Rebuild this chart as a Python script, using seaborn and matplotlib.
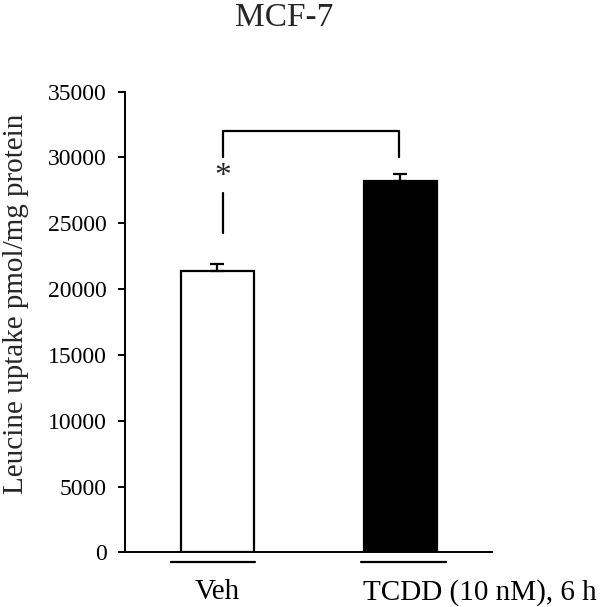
import matplotlib
matplotlib.use("Agg")
import matplotlib.pyplot as plt
import matplotlib.transforms as mtransforms
import pandas as pd
import seaborn as sns

# values
groups = ["Veh", "TCDD (10 nM), 6 h"]
uptake = [21400, 28250]
uptake_err = [480, 500]
title = "MCF-7"
ylabel = "Leucine uptake pmol/mg protein"
yticks = [0, 5000, 10000, 15000, 20000, 25000, 30000, 35000]

sns.set_style("white")
plt.rcParams["font.family"] = ["Liberation Serif", "DejaVu Serif"]

df = pd.DataFrame({"group": groups, "uptake": uptake})

fig = plt.figure(figsize=(6.02, 6.07), dpi=100)
ax = fig.add_axes([0.2076, 0.090, 0.6094, 0.759])

sns.barplot(
    data=df, x="group", y="uptake", hue="group", palette=["white", "black"],
    edgecolor="black", linewidth=1.6, width=0.40, errorbar=None,
    legend=False, ax=ax,
)
# one-sided error bars
ax.errorbar(
    range(len(groups)), uptake, yerr=[[0] * len(groups), uptake_err],
    fmt="none", ecolor="black", elinewidth=1.6, capsize=5, capthick=1.6,
)

ax.set_xlim(-0.505, 1.5)
ax.set_ylim(0, 35000)
ax.set_yticks(yticks)
ax.set_xlabel("")
ax.set_ylabel(ylabel, fontsize=21)
ax.yaxis.set_label_coords(-0.262, 0.54)
ax.set_title(title, fontsize=24, x=0.433, y=1.0, pad=47)

sns.despine(ax=ax)
for side in ["left", "bottom"]:
    ax.spines[side].set_linewidth(1.4)
    ax.spines[side].set_color("black")

ax.tick_params(axis="y", direction="out", length=5, width=1.4,
               labelsize=17, left=True, pad=8, colors="black")
ax.tick_params(axis="x", length=0, labelsize=21, pad=19, colors="black")

# second label starts at left edge of its bar
lbls = ax.get_xticklabels()
lbls[1].set_horizontalalignment("left")
lbls[1].set_transform(lbls[1].get_transform() + mtransforms.ScaledTranslation(
    -0.37, 0, fig.dpi_scale_trans))

# group lines under the axis
trans = mtransforms.blended_transform_factory(ax.transData, ax.transAxes)
for x0, x1 in [(-0.254, 0.205), (0.784, 1.249)]:
    ax.plot([x0, x1], [-0.02, -0.02], color="black", lw=1.6,
            transform=trans, clip_on=False)

# significance bracket
ax.plot([0.03, 0.03, 0.99, 0.99], [30000, 32000, 32000, 30000],
        color="black", lw=1.6, clip_on=False)
ax.plot([0.03, 0.03], [24300, 27300], color="black", lw=1.6)
ax.text(0.03, 28500, "*", ha="center", va="center", fontsize=24)

fig.savefig("out.png", dpi=100)
